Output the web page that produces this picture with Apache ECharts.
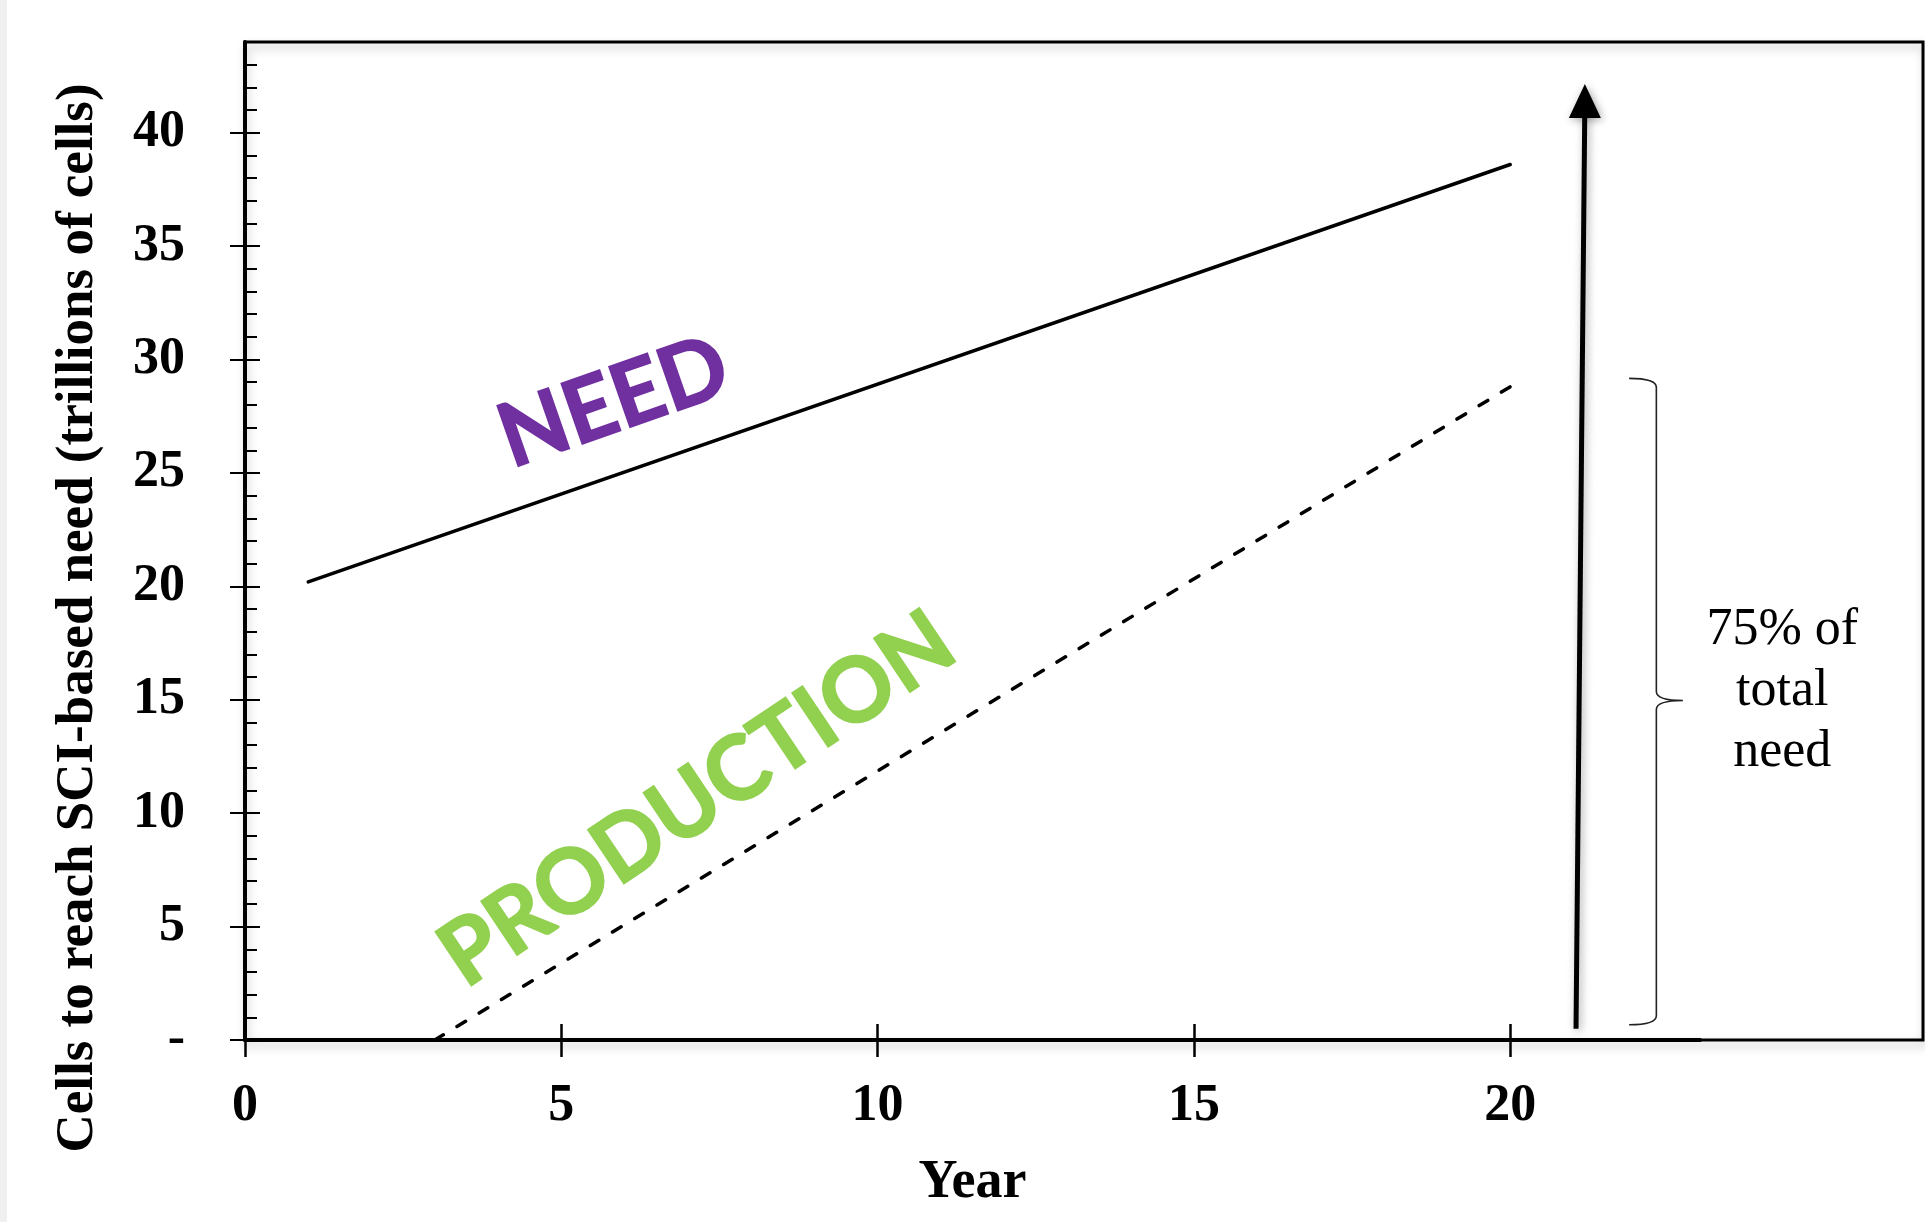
<!DOCTYPE html>
<html>
<head>
<meta charset="utf-8">
<script src="https://cdn.jsdelivr.net/npm/echarts@6/dist/echarts.min.js"></script>
<style>
  html, body { margin: 0; padding: 0; background: #fff; }
  #chart { width: 1925px; height: 1222px; }
</style>
</head>
<body>
<div id="chart"></div>
<script>
// values (x = year, y = trillions of cells)
const needYears = [1, 20];
const needValues = [20.2, 38.6];
const productionYears = [3, 20];
const productionValues = [0, 28.8];

// annotation: big arrow and the "75%" brace
const arrowYears = [21.04, 21.18];
const arrowValues = [0.5, 41.4];
const braceYears = [21.88, 22.31, 22.73];
const braceValues = [0.67, 14.97, 29.17];

// axis ticks
const xTicks = [0, 5, 10, 15, 20];
const yTicks = [0, 5, 10, 15, 20, 25, 30, 35, 40];
const yMinorTicks = [];
for (let v = 1; v < 44; v++) if (v % 5) yMinorTicks.push(v);

// where the text annotations sit (data coords)
const needLabelAt = [5.83, 28.1];
const productionLabelAt = [7.15, 10.6];
const noteAt = [24.3, 15.37];

const serif = "'Liberation Serif', 'Times New Roman', serif";
const sans = "Lato, 'Open Sans', sans-serif";

const chart = echarts.init(document.getElementById('chart'));

const tickStyle = {color: '#000', width: 2.5};

const option = {
  animation: false,
  backgroundColor: '#fff',
  grid: {left: 245, right: 225, top: 42, bottom: 182},
  xAxis: [{
    type: 'value', min: 0, max: 23, position: 'bottom',
    name: 'Year', nameLocation: 'middle', nameGap: 116,
    nameTextStyle: {fontFamily: serif, fontWeight: 'bold', fontSize: 54, color: '#000'},
    axisLine: {show: true, lineStyle: {color: '#000', width: 4}},
    axisTick: {show: true, customValues: xTicks, length: 17, lineStyle: tickStyle},
    axisLabel: {customValues: xTicks, margin: 41, fontFamily: serif, fontWeight: 'bold', fontSize: 52, color: '#000'},
    splitLine: {show: false}
  }, {
    type: 'value', min: 0, max: 23, position: 'bottom',
    axisLine: {show: false},
    axisTick: {show: true, inside: true, customValues: xTicks, length: 16, lineStyle: tickStyle},
    axisLabel: {show: false},
    splitLine: {show: false}
  }],
  yAxis: [{
    type: 'value', min: 0, max: 44, position: 'left',
    axisLine: {show: true, lineStyle: {color: '#000', width: 4}},
    axisTick: {show: true, inside: true, customValues: yTicks, length: 15, lineStyle: {color: '#000', width: 2}},
    axisLabel: {
      customValues: yTicks, margin: 60,
      formatter: v => v === 0 ? '-' : String(v),
      fontFamily: serif, fontWeight: 'bold', fontSize: 52, color: '#000'
    },
    splitLine: {show: false}
  }, {
    type: 'value', min: 0, max: 44, position: 'left',
    axisLine: {show: false},
    axisTick: {show: true, customValues: yTicks, length: 15, lineStyle: {color: '#000', width: 2}},
    axisLabel: {show: false},
    splitLine: {show: false}
  }, {
    type: 'value', min: 0, max: 44, position: 'left',
    axisLine: {show: false},
    axisTick: {show: true, inside: true, customValues: yMinorTicks, length: 12, lineStyle: {color: '#000', width: 2}},
    axisLabel: {show: false},
    splitLine: {show: false}
  }],
  series: [{
    name: 'Need', type: 'line', symbol: 'none',
    data: needYears.map((x, i) => [x, needValues[i]]),
    lineStyle: {color: '#000', width: 3.5, cap: 'round'}
  }, {
    name: 'Production', type: 'line', symbol: 'none',
    data: productionYears.map((x, i) => [x, productionValues[i]]),
    lineStyle: {color: '#000', width: 3.5, type: [10, 16], cap: 'round'}
  }, {
    name: 'Arrow', type: 'line', showSymbol: true, clip: false, z: 5,
    data: [
      {value: [arrowYears[0], arrowValues[0]], symbol: 'none'},
      {value: [arrowYears[1], arrowValues[1]], symbol: 'triangle', symbolSize: [32, 34]}
    ],
    itemStyle: {color: '#000', shadowBlur: 8, shadowColor: 'rgba(0,0,0,0.35)', shadowOffsetX: 2, shadowOffsetY: 2},
    lineStyle: {color: '#000', width: 5, shadowBlur: 8, shadowColor: 'rgba(0,0,0,0.35)', shadowOffsetX: 2, shadowOffsetY: 2}
  }, {
    name: 'Brace', type: 'custom', clip: false,
    data: [[braceYears[1], braceValues[1]]],
    renderItem: function (params, api) {
      const xl = api.coord([braceYears[0], 0])[0];
      const xm = api.coord([braceYears[1], 0])[0];
      const xr = api.coord([braceYears[2], 0])[0];
      const yb = api.coord([0, braceValues[0]])[1];
      const ym = api.coord([0, braceValues[1]])[1];
      const yt = api.coord([0, braceValues[2]])[1];
      const r = 9;
      const d = 'M' + xl + ',' + yt + ' Q' + xm + ',' + yt + ' ' + xm + ',' + (yt + r) +
        ' L' + xm + ',' + (ym - r) + ' Q' + xm + ',' + ym + ' ' + xr + ',' + ym +
        ' Q' + xm + ',' + ym + ' ' + xm + ',' + (ym + r) +
        ' L' + xm + ',' + (yb - r) + ' Q' + xm + ',' + yb + ' ' + xl + ',' + yb;
      return {type: 'path', shape: {pathData: d}, style: {fill: 'none', stroke: '#222', lineWidth: 1.6}};
    }
  }]
};

chart.setOption(option);

// text annotations and the plot frame, placed through the axes
const px = v => chart.convertToPixel({xAxisIndex: 0, yAxisIndex: 0}, v);
const topLeft = px([0, 44]);
const bottomLeft = px([0, 0]);
const needPx = px(needLabelAt);
const prodPx = px(productionLabelAt);
const notePx = px(noteAt);

chart.setOption({
  graphic: [
    {type: 'rect', z: -1, shape: {x: 0, y: 0, width: 7, height: 1222}, style: {fill: '#f0f0f0'}},
    {
      type: 'rect', z: -1,
      shape: {x: topLeft[0], y: topLeft[1], width: 1923 - topLeft[0], height: bottomLeft[1] - topLeft[1]},
      style: {fill: 'none', stroke: '#000', lineWidth: 3, shadowBlur: 10, shadowColor: 'rgba(0,0,0,0.25)', shadowOffsetX: 2, shadowOffsetY: 5}
    },
    {
      type: 'text', x: 78, y: 618, rotation: Math.PI / 2,
      style: {text: 'Cells to reach SCI-based need (trillions of cells)', fontFamily: serif, fontWeight: 'bold', fontSize: 53, fill: '#000', align: 'center', verticalAlign: 'middle'}
    },
    {
      type: 'text', x: needPx[0], y: needPx[1], rotation: 19.2 * Math.PI / 180,
      style: {text: 'NEED', fontFamily: sans, fontWeight: 'bold', fontSize: 88, fill: '#7030A0', stroke: '#7030A0', lineWidth: 2, align: 'center', verticalAlign: 'middle'}
    },
    {
      type: 'text', x: prodPx[0], y: prodPx[1], rotation: 33.8 * Math.PI / 180,
      style: {text: 'PRODUCTION', fontFamily: sans, fontWeight: 'bold', fontSize: 89, fill: '#92D050', stroke: '#92D050', lineWidth: 2, align: 'center', verticalAlign: 'middle'}
    },
    {
      type: 'text', x: notePx[0], y: notePx[1],
      style: {text: '75% of\ntotal\nneed', fontFamily: serif, fontSize: 52, lineHeight: 61, fill: '#000', align: 'center', verticalAlign: 'middle'}
    }
  ]
});
</script>
</body>
</html>
